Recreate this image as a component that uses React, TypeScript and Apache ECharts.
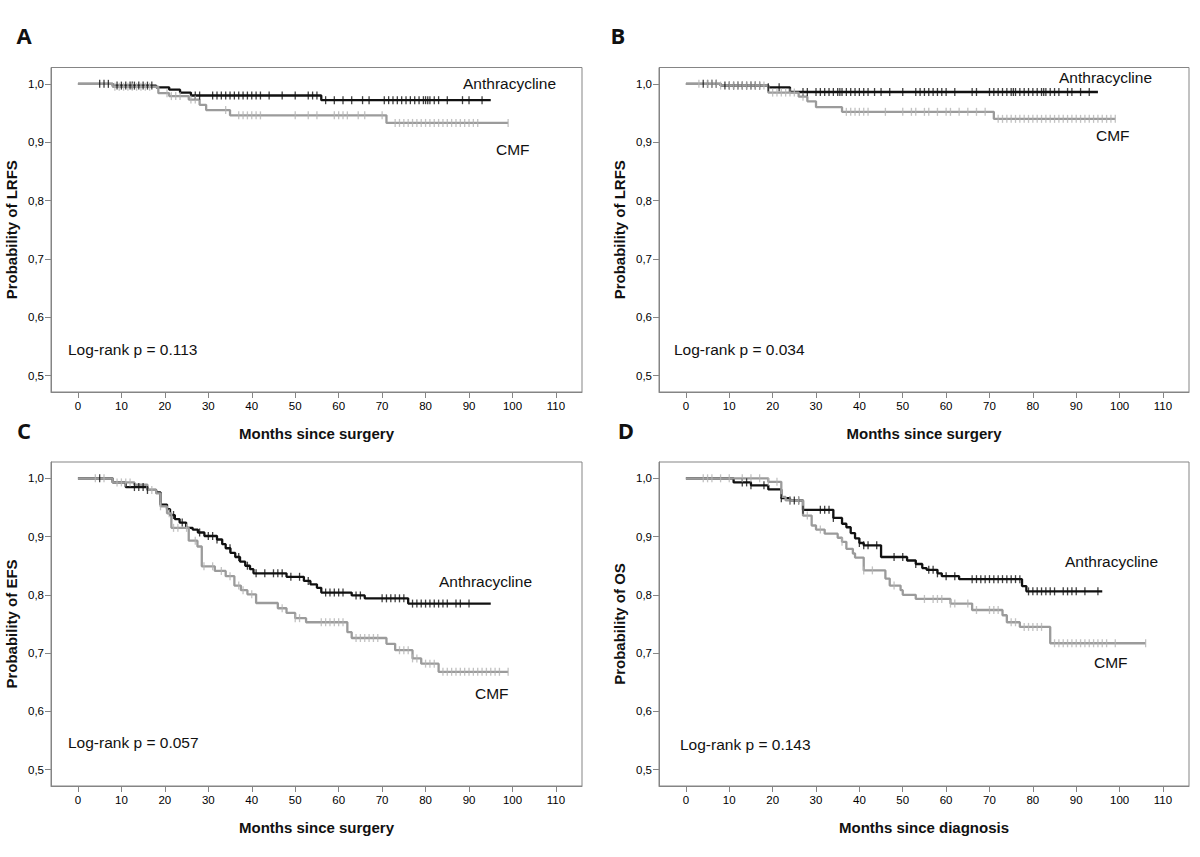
import React, { useEffect, useRef } from "react";
import * as echarts from "echarts";

// ---------- data ----------
const xTickValues = [0, 10, 20, 30, 40, 50, 60, 70, 80, 90, 100, 110];
const yTickValues = [0.5, 0.6, 0.7, 0.8, 0.9, 1.0];

// Panel A – LRFS
const aAnthraTimes = [0, 8, 18, 21, 23.5, 26, 56];
const aAnthraSurv = [1, 0.997, 0.994, 0.99, 0.985, 0.98, 0.972];
const aAnthraEnd = 95;
const aAnthraCensor = [5, 6, 7, 9, 10, 11, 12, 12.5, 13, 14, 15, 16, 17, 27, 28, 31, 32, 33, 34, 35, 36, 37, 38, 39, 40, 41, 42, 44, 47, 50, 53, 54, 55, 57, 59, 61, 63, 65.5, 67, 70.5, 71.5, 72.5, 73.5, 74.5, 75.5, 76.5, 77.5, 78.5, 79.5, 80, 80.5, 81, 82, 83, 85, 88.5, 90, 93];
const aCmfTimes = [0, 8, 18.5, 21, 25.5, 28, 29.5, 35, 71];
const aCmfSurv = [1, 0.995, 0.984, 0.979, 0.973, 0.964, 0.955, 0.946, 0.933];
const aCmfEnd = 99;
const aCmfCensor = [8.5, 9.5, 10.5, 11.5, 12.5, 13.5, 14.5, 15.5, 16.5, 20.5, 21.5, 22.5, 23.5, 26, 27, 34, 37, 38, 39, 40, 41, 42, 50, 53, 55, 59, 60, 61, 62, 64.5, 66, 70, 73, 74, 75, 76, 77, 78, 79, 80, 81, 82, 83, 84, 85, 86, 87, 88, 89, 90, 91, 92, 99];

// Panel B – LRFS
const bAnthraTimes = [0, 8, 19, 24];
const bAnthraSurv = [1, 0.997, 0.994, 0.986];
const bAnthraEnd = 95;
const bAnthraCensor = [4, 5, 6, 7, 9, 10, 11, 12, 13, 14, 15, 16, 17, 19, 21.5, 27, 28, 30, 31, 32, 33, 34, 35, 35.5, 36, 37, 38, 39, 40, 41, 42, 43.5, 45, 47, 50, 53, 54, 55, 56, 57, 58, 59, 60, 62, 66, 67, 70, 71, 72, 73, 74, 75, 75.5, 76, 77, 78, 79, 80, 81, 82, 82.5, 83, 84, 85, 86, 88, 89, 91, 93];
const bCmfTimes = [0, 8, 19, 26, 28, 30, 36, 71];
const bCmfSurv = [1, 0.997, 0.985, 0.978, 0.97, 0.96, 0.952, 0.94];
const bCmfEnd = 99;
const bCmfCensor = [3, 5, 6, 7, 8, 10, 11, 12, 13, 14, 15, 16, 17, 18, 20, 21, 22, 23, 24, 25, 27, 37, 38, 39, 40, 41, 42, 46, 50, 52, 53, 55, 56, 58, 60, 61, 63, 65, 67, 69, 72, 73, 74, 75, 76, 77, 78, 79, 80, 81, 82, 83, 84, 85, 86, 87, 88, 89, 90, 91, 92, 93, 94, 95, 96, 97, 98, 99];

// Panel C – EFS
const cAnthraTimes = [0, 8, 11, 16, 18, 19, 20.5, 21.2, 22.3, 23.4, 24.9, 26.4, 27.6, 29.1, 32, 33.2, 34, 35.1, 36.2, 37.3, 38.5, 39.6, 40.4, 48, 52, 53.5, 55, 56, 63, 66, 76];
const cAnthraSurv = [1, 0.993, 0.985, 0.98, 0.976, 0.955, 0.947, 0.937, 0.93, 0.924, 0.915, 0.912, 0.907, 0.901, 0.895, 0.887, 0.88, 0.872, 0.865, 0.857, 0.85, 0.844, 0.837, 0.831, 0.824, 0.818, 0.812, 0.804, 0.799, 0.794, 0.785];
const cAnthraEnd = 95;
const cAnthraCensor = [5, 13, 14, 15, 16, 22, 24, 28, 30, 31, 32, 35, 37, 39, 41, 43, 45, 46, 47, 49, 51, 53, 57, 58, 59, 60, 61, 64, 65, 70, 71, 72, 73, 74, 75, 77, 78, 79, 80, 81, 82, 83, 84, 85, 87, 88, 90];
const cCmfTimes = [0, 8, 13, 16, 18, 19, 20.5, 21.5, 25.5, 27.5, 28.5, 31.5, 34, 36, 37.5, 39, 41, 46, 48, 50, 52.5, 62, 63, 71, 73, 77, 79, 83];
const cCmfSurv = [1, 0.993, 0.989, 0.98, 0.974, 0.952, 0.94, 0.915, 0.893, 0.883, 0.849, 0.841, 0.832, 0.816, 0.808, 0.801, 0.786, 0.777, 0.769, 0.76, 0.753, 0.736, 0.726, 0.716, 0.705, 0.691, 0.682, 0.668];
const cCmfEnd = 99;
const cCmfCensor = [4, 6, 9, 10, 11, 12, 17, 19, 21, 22, 23, 25, 27, 29, 31, 33, 35, 37, 38, 40, 47, 50, 51, 56, 57, 58, 59, 60, 61, 64, 65, 66, 67, 68, 69, 74, 75, 76, 77, 78, 80, 81, 82, 84, 85, 86, 87, 88, 89, 90, 91, 92, 93, 94, 95, 96, 97, 99];

// Panel D – OS
const dAnthraTimes = [0, 11, 15, 19, 22, 24, 27, 34, 36, 37, 38, 39, 40, 41, 45, 51, 53, 54.5, 55.5, 58, 59, 63, 77.5, 78.5];
const dAnthraSurv = [1, 0.993, 0.988, 0.981, 0.966, 0.962, 0.946, 0.932, 0.922, 0.916, 0.906, 0.897, 0.889, 0.885, 0.865, 0.859, 0.853, 0.846, 0.843, 0.837, 0.832, 0.827, 0.815, 0.806];
const dAnthraEnd = 96;
const dAnthraCensor = [13, 14, 15, 18, 22, 24, 25, 26, 27, 31, 32, 33, 34, 40, 41, 42, 44, 48, 50, 53, 56, 57, 58, 60, 62, 66, 67, 68, 69, 70, 71, 72, 73, 74, 75, 76, 77, 79, 80, 81, 82, 83, 84, 85, 87, 88, 89, 90, 92, 95];
const dCmfTimes = [0, 19, 22, 23, 27, 29, 30, 32, 35, 36, 37, 38.5, 39, 41, 46, 47, 49.5, 50, 53, 61, 66, 73, 74, 77, 84];
const dCmfSurv = [1, 0.994, 0.968, 0.962, 0.936, 0.919, 0.912, 0.905, 0.898, 0.891, 0.879, 0.871, 0.864, 0.842, 0.828, 0.816, 0.808, 0.8, 0.793, 0.785, 0.774, 0.765, 0.753, 0.745, 0.717];
const dCmfEnd = 106;
const dCmfCensor = [4, 5, 6, 8, 10, 13, 15, 17, 19, 21, 24, 26, 28, 31, 36, 41, 43, 48, 55, 57, 58, 59, 61, 62, 65, 67, 70, 71, 72, 75, 76, 78, 79, 80, 81, 82, 85, 86, 87, 88, 89, 90, 91, 92, 93, 94, 95, 96, 97, 99, 106];

const panelLetters = ["A", "B", "C", "D"];
const yTitles = ["Probability of LRFS", "Probability of LRFS", "Probability of EFS", "Probability of OS"];
const xTitles = ["Months since surgery", "Months since surgery", "Months since surgery", "Months since diagnosis"];
const pValues = ["Log-rank p = 0.113", "Log-rank p = 0.034", "Log-rank p = 0.057", "Log-rank p = 0.143"];
const groupNames = ["Anthracycline", "CMF"];

// ---------- helpers ----------
const stepLine = (times: number[], surv: number[], end: number) => {
  const pts = times.map((t, i) => [t, surv[i]]);
  pts.push([end, surv[surv.length - 1]]);
  return pts;
};
const survAt = (times: number[], surv: number[], x: number) => {
  let v = surv[0];
  for (let i = 0; i < times.length; i++) if (times[i] <= x) v = surv[i];
  return v;
};
const censorPts = (times: number[], surv: number[], cens: number[]) =>
  cens.map((c) => [c, survAt(times, surv, c)]);

const panelsData = [
  { at: aAnthraTimes, as: aAnthraSurv, ae: aAnthraEnd, ac: aAnthraCensor, ct: aCmfTimes, cs: aCmfSurv, ce: aCmfEnd, cc: aCmfCensor },
  { at: bAnthraTimes, as: bAnthraSurv, ae: bAnthraEnd, ac: bAnthraCensor, ct: bCmfTimes, cs: bCmfSurv, ce: bCmfEnd, cc: bCmfCensor },
  { at: cAnthraTimes, as: cAnthraSurv, ae: cAnthraEnd, ac: cAnthraCensor, ct: cCmfTimes, cs: cCmfSurv, ce: cCmfEnd, cc: cCmfCensor },
  { at: dAnthraTimes, as: dAnthraSurv, ae: dAnthraEnd, ac: dAnthraCensor, ct: dCmfTimes, cs: dCmfSurv, ce: dCmfEnd, cc: dCmfCensor },
];

// ---------- layout ----------
const FONT = "'Liberation Sans', Arial, sans-serif";
const gridBoxes = [
  { left: 51, top: 67.5, width: 531, height: 324.5 },
  { left: 659, top: 67.5, width: 530, height: 324.5 },
  { left: 51, top: 462, width: 531, height: 324 },
  { left: 659, top: 462, width: 530, height: 324 },
];
const letterPos = [
  [24, 35],
  [618, 35],
  [24, 430],
  [626, 430],
];
const textPos = [
  { anth: [463, 83], cmf: [496, 149], p: [68, 349] },
  { anth: [1059, 77], cmf: [1096, 135], p: [674, 349] },
  { anth: [439, 581], cmf: [475, 693], p: [68, 742] },
  { anth: [1065, 561], cmf: [1094, 662], p: [680, 744] },
];

const BLACK = "#111111";
const GRAY = "#9b9b9b";
const GRAY_CENSOR = "#b3b3b3";
const BOX = "#858585";

export default function App() {
  const ref = useRef<HTMLDivElement>(null);
  useEffect(() => {
    document.body.style.margin = "0";
    if (!ref.current) return;
    const chart = echarts.init(ref.current, undefined, { renderer: "svg" });

    const grid = gridBoxes.map((g) => ({
      ...g,
      show: true,
      borderColor: BOX,
      borderWidth: 1,
      backgroundColor: "transparent",
      containLabel: false,
    }));

    const xAxis = gridBoxes.map((_, i) => ({
      type: "value",
      gridIndex: i,
      position: "bottom",
      min: -6.2,
      max: 116,
      name: xTitles[i],
      nameLocation: "middle",
      nameGap: 34,
      nameTextStyle: { fontFamily: FONT, fontWeight: "bold", fontSize: 15, color: "#111" },
      axisLine: { show: true, onZero: false, lineStyle: { color: BOX, width: 1 } },
      splitLine: { show: false },
      axisTick: { show: true, inside: false, length: 6, customValues: xTickValues, lineStyle: { color: BOX } },
      axisLabel: {
        customValues: xTickValues,
        margin: 8,
        fontFamily: FONT,
        fontSize: 11.5,
        color: "#000",
      },
    }));

    const yAxis = gridBoxes.map((_, i) => ({
      type: "value",
      gridIndex: i,
      position: "left",
      min: 0.472,
      max: 1.028,
      name: yTitles[i],
      nameLocation: "middle",
      nameGap: 32,
      nameTextStyle: { fontFamily: FONT, fontWeight: "bold", fontSize: 15, color: "#111" },
      axisLine: { show: true, onZero: false, lineStyle: { color: BOX, width: 1 } },
      splitLine: { show: false },
      axisTick: { show: true, inside: false, length: 6, customValues: yTickValues, lineStyle: { color: BOX } },
      axisLabel: {
        customValues: yTickValues,
        margin: 7,
        fontFamily: FONT,
        fontSize: 11.5,
        color: "#000",
        formatter: (v: number) => v.toFixed(1).replace(".", ","),
      },
    }));

    const series: any[] = [];
    panelsData.forEach((p, i) => {
      series.push({
        type: "line",
        name: groupNames[0],
        xAxisIndex: i,
        yAxisIndex: i,
        step: "end",
        showSymbol: false,
        data: stepLine(p.at, p.as, p.ae),
        lineStyle: { color: BLACK, width: 2.3 },
        z: 2,
      });
      series.push({
        type: "line",
        name: groupNames[1],
        xAxisIndex: i,
        yAxisIndex: i,
        step: "end",
        showSymbol: false,
        data: stepLine(p.ct, p.cs, p.ce),
        lineStyle: { color: GRAY, width: 2.3 },
        z: 3,
      });
      series.push({
        type: "scatter",
        xAxisIndex: i,
        yAxisIndex: i,
        symbol: "rect",
        symbolSize: [1.3, 8],
        data: censorPts(p.at, p.as, p.ac),
        itemStyle: { color: BLACK },
        z: 4,
      });
      series.push({
        type: "scatter",
        xAxisIndex: i,
        yAxisIndex: i,
        symbol: "rect",
        symbolSize: [1.3, 8],
        data: censorPts(p.ct, p.cs, p.cc),
        itemStyle: { color: GRAY_CENSOR },
        z: 4,
      });
    });

    const graphic: any[] = [];
    panelLetters.forEach((l, i) => {
      graphic.push({
        type: "text",
        x: letterPos[i][0],
        y: letterPos[i][1],
        style: {
          text: l,
          fontFamily: "'Open Sans', " + FONT,
          fontWeight: "bold",
          fontSize: 22,
          fill: "#111",
          align: "center",
          verticalAlign: "middle",
        },
      });
      const tp = textPos[i];
      const mk = (txt: string, pos: number[]) => ({
        type: "text",
        x: pos[0],
        y: pos[1],
        style: {
          text: txt,
          fontFamily: FONT,
          fontSize: 15.5,
          fill: "#111",
          align: "left",
          verticalAlign: "middle",
        },
      });
      graphic.push(mk(groupNames[0], tp.anth));
      graphic.push(mk(groupNames[1], tp.cmf));
      graphic.push(mk(pValues[i], tp.p));
    });

    chart.setOption({
      animation: false,
      backgroundColor: "#ffffff",
      grid,
      xAxis,
      yAxis,
      series,
      graphic,
    });
    return () => chart.dispose();
  }, []);
  return <div ref={ref} style={{ width: 1200, height: 857 }} />;
}
